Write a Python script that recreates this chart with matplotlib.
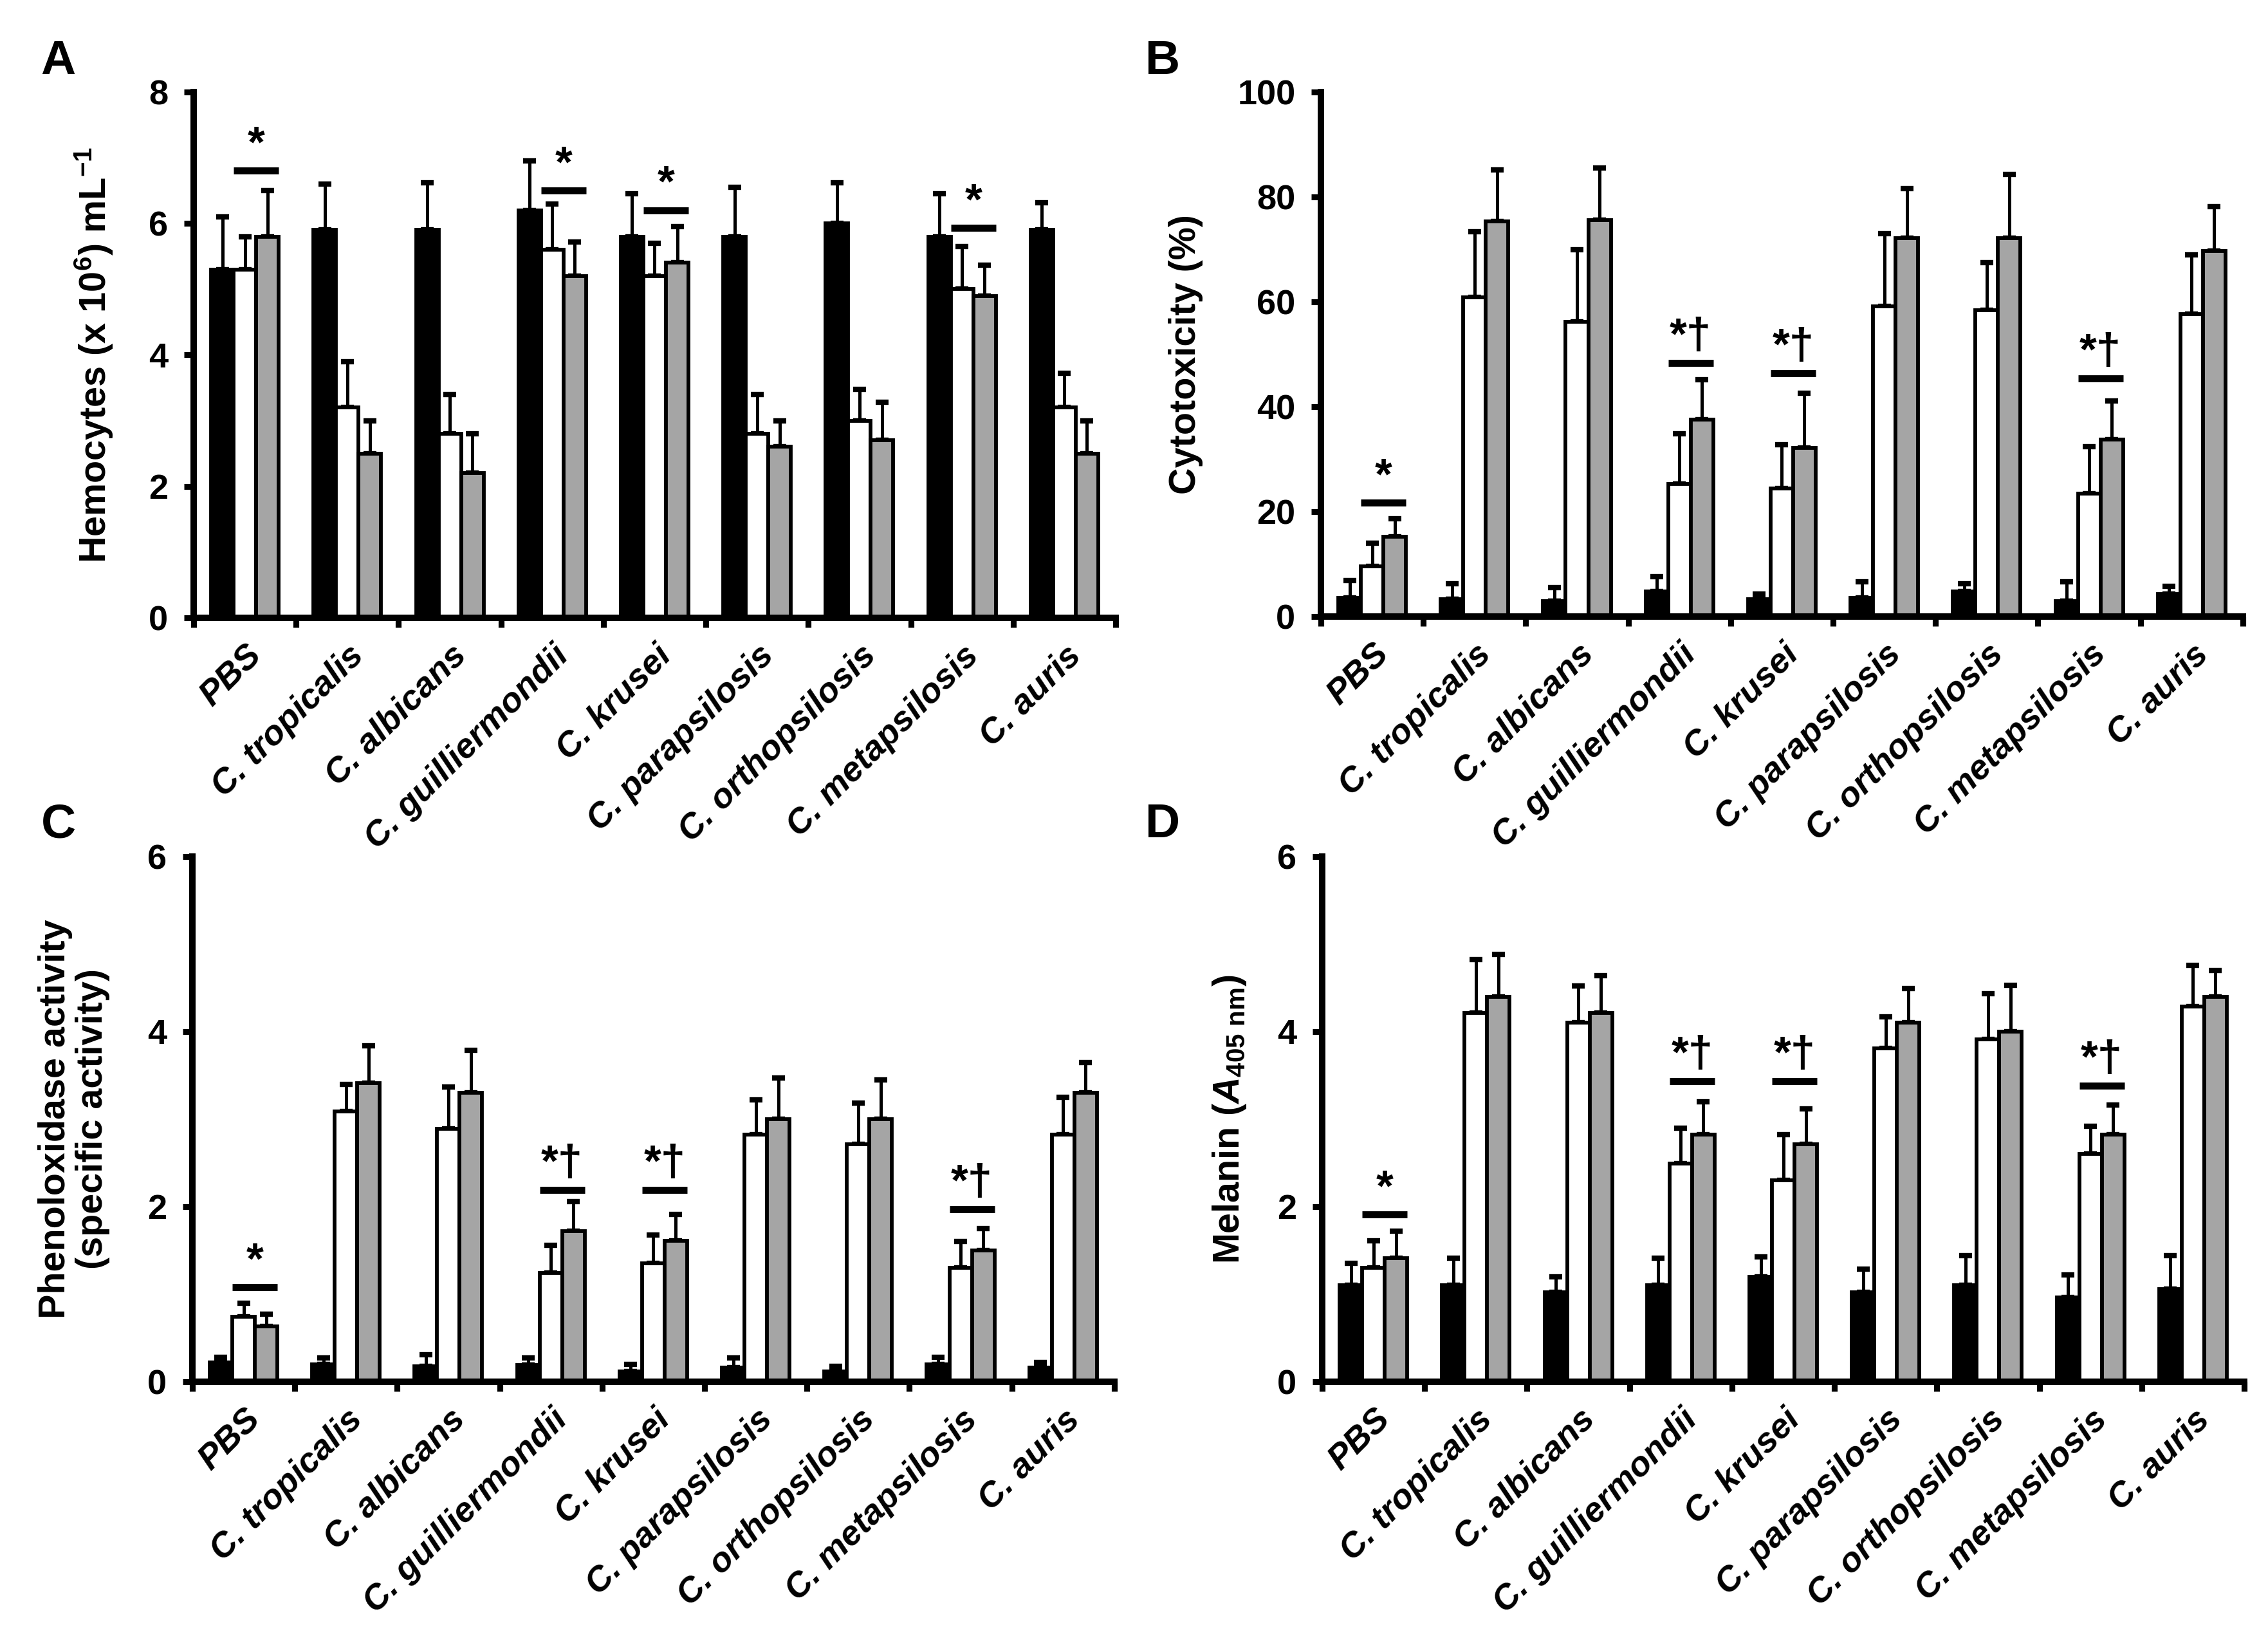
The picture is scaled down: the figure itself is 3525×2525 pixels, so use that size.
import numpy as np
import matplotlib
matplotlib.use('Agg')
from matplotlib import pyplot as plt

plt.rcParams['font.family'] = ['Liberation Sans', 'DejaVu Sans']
plt.rcParams['font.weight'] = 'bold'
plt.rcParams['mathtext.fontset'] = 'custom'
plt.rcParams['mathtext.rm'] = 'Liberation Sans'
plt.rcParams['mathtext.it'] = 'Liberation Sans:italic:bold'
plt.rcParams['mathtext.bf'] = 'Liberation Sans:bold'
plt.rcParams['mathtext.default'] = 'regular'

categories = ['PBS', 'C. tropicalis', 'C. albicans', 'C. guilliermondii', 'C. krusei',
              'C. parapsilosis', 'C. orthopsilosis', 'C. metapsilosis', 'C. auris']

# A - hemocytes
hemo_black = [5.3, 5.9, 5.9, 6.2, 5.8, 5.8, 6.0, 5.8, 5.9]
hemo_black_err = [0.8, 0.7, 0.72, 0.75, 0.65, 0.75, 0.62, 0.65, 0.42]
hemo_white = [5.3, 3.2, 2.8, 5.6, 5.2, 2.8, 3.0, 5.0, 3.2]
hemo_white_err = [0.5, 0.7, 0.6, 0.7, 0.5, 0.6, 0.48, 0.65, 0.52]
hemo_gray = [5.8, 2.5, 2.2, 5.2, 5.4, 2.6, 2.7, 4.9, 2.5]
hemo_gray_err = [0.7, 0.5, 0.6, 0.52, 0.55, 0.4, 0.58, 0.47, 0.5]
hemo_sig_groups = [0, 3, 4, 7]
hemo_sig_level = [6.8, 6.5, 6.2, 5.93]
hemo_sig_mark = ['*', '*', '*', '*']

# B - cytotoxicity
cyto_black = [3.6, 3.3, 3.0, 4.8, 3.3, 3.6, 4.8, 3.0, 4.3]
cyto_black_err = [3.3, 3.0, 2.5, 2.8, 1.0, 3.0, 1.5, 3.6, 1.5]
cyto_white = [9.6, 60.8, 56.2, 25.3, 24.4, 59.1, 58.4, 23.4, 57.7]
cyto_white_err = [4.4, 12.6, 13.7, 9.6, 8.3, 13.9, 9.1, 9.0, 11.2]
cyto_gray = [15.2, 75.3, 75.6, 37.5, 32.2, 72.2, 72.2, 33.7, 69.7]
cyto_gray_err = [3.4, 9.9, 9.9, 7.6, 10.4, 9.4, 12.1, 7.4, 8.4]
cyto_sig_groups = [0, 3, 4, 7]
cyto_sig_level = [21.7, 48.3, 46.4, 45.4]
cyto_sig_mark = ['*', '*†', '*†', '*†']

# C - phenoloxidase
po_black = [0.22, 0.2, 0.18, 0.19, 0.12, 0.16, 0.12, 0.2, 0.16]
po_black_err = [0.06, 0.07, 0.13, 0.08, 0.08, 0.11, 0.06, 0.08, 0.06]
po_white = [0.74, 3.09, 2.89, 1.24, 1.35, 2.82, 2.71, 1.3, 2.82]
po_white_err = [0.16, 0.31, 0.48, 0.32, 0.33, 0.4, 0.47, 0.3, 0.43]
po_gray = [0.63, 3.41, 3.3, 1.72, 1.61, 3.0, 3.0, 1.5, 3.3]
po_gray_err = [0.14, 0.43, 0.49, 0.34, 0.3, 0.47, 0.45, 0.25, 0.35]
po_sig_groups = [0, 3, 4, 7]
po_sig_level = [1.08, 2.19, 2.19, 1.97]
po_sig_mark = ['*', '*†', '*†', '*†']

# D - melanin
mel_black = [1.1, 1.1, 1.02, 1.1, 1.2, 1.02, 1.1, 0.96, 1.06]
mel_black_err = [0.25, 0.31, 0.18, 0.31, 0.23, 0.27, 0.34, 0.26, 0.38]
mel_white = [1.3, 4.21, 4.1, 2.49, 2.3, 3.81, 3.91, 2.6, 4.29]
mel_white_err = [0.31, 0.61, 0.42, 0.41, 0.52, 0.36, 0.52, 0.32, 0.47]
mel_gray = [1.41, 4.4, 4.21, 2.82, 2.71, 4.1, 4.0, 2.82, 4.4]
mel_gray_err = [0.31, 0.48, 0.43, 0.38, 0.41, 0.39, 0.53, 0.34, 0.3]
mel_sig_groups = [0, 3, 4, 7]
mel_sig_level = [1.91, 3.43, 3.43, 3.38]
mel_sig_mark = ['*', '*†', '*†', '*†']

bar_colors = ['black', 'white', '#a5a5a5']
bw = 0.22


def panel(ax, series, errs, ymax, ystep, ylabel, label_x, sig_groups, sig_level, sig_mark):
    x = np.arange(len(categories))
    for k in range(3):
        xs = x + (k - 1) * bw
        ax.bar(xs, series[k], width=bw, color=bar_colors[k], edgecolor='black',
               linewidth=1.4, zorder=2)
        ax.errorbar(xs, series[k], yerr=[np.zeros(len(x)), errs[k]], fmt='none',
                    ecolor='black', elinewidth=1.2, capsize=2.4, capthick=2.0, zorder=1)
    for g, lev, m in zip(sig_groups, sig_level, sig_mark):
        ax.plot([g - bw / 2, g + 1.5 * bw], [lev, lev], color='black', lw=2.6,
                solid_capstyle='butt', zorder=3)
        ax.text(g + bw / 2, lev + ymax * 0.01, m, ha='center', va='bottom',
                fontsize=16.5, fontweight='bold',
                family=['Liberation Sans', 'DejaVu Sans'])
    ax.set_xlim(-0.5, len(categories) - 0.5)
    ax.set_ylim(0, ymax)
    ax.set_yticks(np.arange(0, ymax + ystep / 2, ystep))
    ax.set_xticks(np.arange(-0.5, len(categories), 1.0))
    ax.set_xticklabels([])
    ax.set_xticks(x, categories, minor=True)
    for t in ax.get_xticklabels(minor=True):
        t.set_rotation(45)
        t.set_ha('right')
        t.set_va('top')
        t.set_rotation_mode('anchor')
        t.set_style('italic')
        t.set_fontweight('bold')
        t.set_fontsize(13)
    ax.tick_params(axis='x', which='minor', length=0, pad=8)
    ax.tick_params(axis='both', which='major', length=3.5, width=2.2, direction='out',
                   labelsize=13, pad=6)
    for s in ['top', 'right']:
        ax.spines[s].set_visible(False)
    for s in ['left', 'bottom']:
        ax.spines[s].set_linewidth(2.4)
    ax.set_ylabel(ylabel, fontsize=13.8, fontweight='bold', linespacing=1.1)
    ax.yaxis.set_label_coords(label_x, 0.5)


fig = plt.figure(figsize=(11.75, 2525 / 300))
axA = fig.add_axes([0.0854, 0.6198, 0.4065, 0.3236])
axB = fig.add_axes([0.5824, 0.6206, 0.4065, 0.3228])
axC = fig.add_axes([0.0848, 0.1497, 0.4065, 0.3232])
axD = fig.add_axes([0.5830, 0.1497, 0.4065, 0.3232])

panel(axA, [hemo_black, hemo_white, hemo_gray], [hemo_black_err, hemo_white_err, hemo_gray_err],
      8, 2, 'Hemocytes (x 10$^{6}$) mL$^{-1}$', -0.085, hemo_sig_groups, hemo_sig_level, hemo_sig_mark)
panel(axB, [cyto_black, cyto_white, cyto_gray], [cyto_black_err, cyto_white_err, cyto_gray_err],
      100, 20, 'Cytotoxicity (%)', -0.128, cyto_sig_groups, cyto_sig_level, cyto_sig_mark)
panel(axC, [po_black, po_white, po_gray], [po_black_err, po_white_err, po_gray_err],
      6, 2, 'Phenoloxidase activity\n(specific activity)', -0.089, po_sig_groups, po_sig_level, po_sig_mark)
panel(axD, [mel_black, mel_white, mel_gray], [mel_black_err, mel_white_err, mel_gray_err],
      6, 2, r'Melanin ($\mathit{A}_{\mathrm{405\ nm}}$)', -0.080, mel_sig_groups, mel_sig_level, mel_sig_mark)

for lab, xp, yp in [('A', 0.018, 0.976), ('B', 0.505, 0.976), ('C', 0.018, 0.506), ('D', 0.505, 0.506)]:
    fig.text(xp, yp, lab, fontsize=18, fontweight='bold', ha='left', va='top')

fig.savefig('out.png', dpi=300)
